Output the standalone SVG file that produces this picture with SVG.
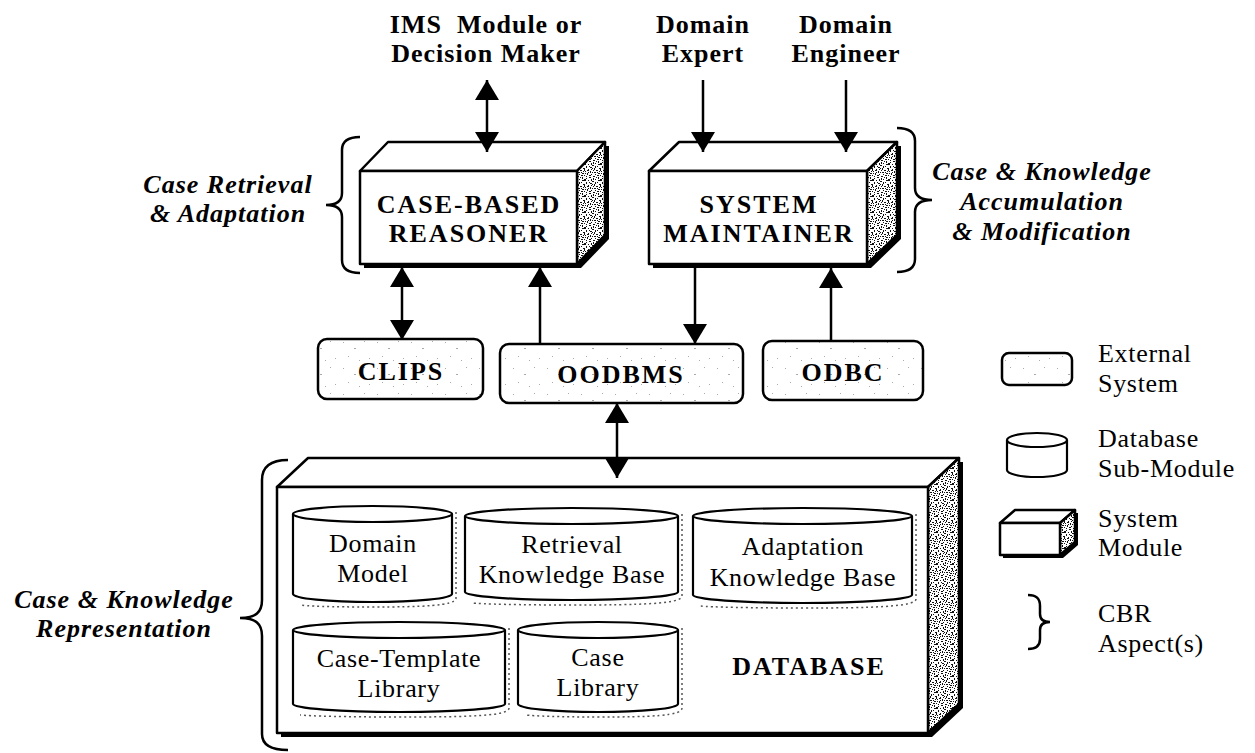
<svg xmlns="http://www.w3.org/2000/svg" width="1255" height="753" viewBox="0 0 1255 753">
  <defs>
    <!-- stippled fill for the shaded side faces of the 3D modules -->
    <pattern id="grain" width="16" height="16" patternUnits="userSpaceOnUse">
      <rect width="16" height="16" fill="#fff"/>
      <path fill="#111" d="M1 0h2v1h-2z M6 1h1v2h-1z M10 0h1v1h-1z M13 1h2v1h-2z M3 3h1v1h-1z M8 3h2v2h-2z M12 4h1v1h-1z M15 3h1v2h-1z M0 5h2v1h-2z M5 6h1v1h-1z M10 6h1v2h-1z M14 7h2v1h-2z M2 8h1v2h-1z M7 8h2v1h-2z M12 9h1v1h-1z M4 10h2v1h-2z M9 11h1v1h-1z M14 11h1v2h-1z M0 12h1v1h-1z M6 13h2v1h-2z M11 13h1v2h-1z M3 14h1v1h-1z M8 15h1v1h-1z M13 15h2v1h-2z M1 10h1v1h-1z M10 2h1v1h-1z M5 12h1v1h-1z M15 14h1v1h-1z M4 1h1v1h-1z M1 2h1v2h-1z M6 4h2v1h-2z M13 6h1v1h-1z M3 6h1v2h-1z M8 9h1v2h-1z M11 10h2v1h-2z M15 9h1v1h-1z M2 12h2v1h-2z M9 13h1v1h-1z M5 15h2v1h-2z M12 12h1v1h-1z M0 8h1v1h-1z M7 11h1v1h-1z"/>
    </pattern>
    <!-- faint speckle for external-system boxes -->
    <pattern id="speck" width="34" height="26" patternUnits="userSpaceOnUse">
      <rect width="34" height="26" fill="#fff"/>
      <path fill="#aaa" d="M3 4h1v1h-1z M14 10h2v1h-2z M24 3h1v1h-1z M8 18h1v1h-1z M29 20h1v1h-1z M19 22h1v1h-1z"/>
    </pattern>
    <marker id="head" viewBox="0 0 20 24" refX="20" refY="12" markerWidth="20" markerHeight="24" markerUnits="userSpaceOnUse" orient="auto-start-reverse">
      <path d="M0,0 L20,12 L0,24 z" fill="#000"/>
    </marker>
  </defs>
  <style>
    text { font-family: "Liberation Serif", "Times New Roman", serif; fill: #000; }
    .lbl { font-weight: bold; font-size: 26px; letter-spacing: 1px; text-anchor: middle; }
    .cap { font-weight: bold; font-size: 26px; letter-spacing: 2px; text-anchor: middle; }
    .asp { font-weight: bold; font-style: italic; font-size: 26px; letter-spacing: 1px; text-anchor: middle; }
    .sub { font-size: 26px; letter-spacing: 0.7px; text-anchor: middle; }
    .key { font-size: 26px; letter-spacing: 0.7px; }
    .face { fill: #fff; stroke: #000; stroke-width: 2.5; stroke-linejoin: round; }
    .side { fill: url(#grain); stroke: #000; stroke-width: 2.5; stroke-linejoin: round; }
    .shadow { fill: #000; }
    .ext { fill: url(#speck); stroke: #000; stroke-width: 2.5; }
    .cyl { fill: #fff; stroke: #000; stroke-width: 2.2; }
    .cylshade { fill: none; stroke: #555; stroke-width: 1.5; stroke-dasharray: 2 3; }
    .brace { fill: none; stroke: #000; stroke-width: 2.5; }
    .conn { fill: none; stroke: #000; stroke-width: 2.5; }
  </style>

  <rect width="1255" height="753" fill="#fff"/>

  <!-- actors -->
  <g id="ims">
    <text class="lbl" x="486" y="33" xml:space="preserve">IMS  Module or</text>
    <text class="lbl" x="486" y="62">Decision Maker</text>
  </g>
  <g id="domain-expert">
    <text class="lbl" x="703" y="33">Domain</text>
    <text class="lbl" x="703" y="62">Expert</text>
  </g>
  <g id="domain-engineer">
    <text class="lbl" x="846" y="33">Domain</text>
    <text class="lbl" x="846" y="62">Engineer</text>
  </g>

  <!-- case-based reasoner -->
  <g id="cbr">
    <polygon class="shadow" points="364,175 392,146 609,146 609,239 581,268 364,268"/>
    <polygon class="face" points="360,171 388,142 605,142 577,171"/>
    <polygon class="side" points="577,171 605,142 605,235 577,264"/>
    <rect class="face" x="360" y="171" width="217" height="93"/>
    <text class="cap" x="469" y="213">CASE-BASED</text>
    <text class="cap" x="469" y="242">REASONER</text>
  </g>

  <!-- system maintainer -->
  <g id="maintainer">
    <polygon class="shadow" points="653,175 683,146 901,146 901,239 871,268 653,268"/>
    <polygon class="face" points="649,171 679,142 897,142 867,171"/>
    <polygon class="side" points="867,171 897,142 897,235 867,264"/>
    <rect class="face" x="649" y="171" width="218" height="93"/>
    <text class="cap" x="759" y="213">SYSTEM</text>
    <text class="cap" x="759" y="242">MAINTAINER</text>
  </g>

  <!-- external systems -->
  <g id="clips">
    <rect class="ext" x="318" y="339" width="165" height="60" rx="9"/>
    <text class="cap" x="401" y="380">CLIPS</text>
  </g>
  <g id="oodbms">
    <rect class="ext" x="500" y="344" width="243" height="59" rx="9"/>
    <text class="cap" x="621" y="383">OODBMS</text>
  </g>
  <g id="odbc">
    <rect class="ext" x="763" y="341" width="160" height="59" rx="9"/>
    <text class="cap" x="843" y="381">ODBC</text>
  </g>

  <!-- database module with its sub-modules -->
  <g id="database">
    <polygon class="shadow" points="281,491 312,462 963,462 963,708 932,737 281,737"/>
    <polygon class="face" points="277,487 308,458 959,458 928,487"/>
    <polygon class="side" points="928,487 959,458 959,704 928,733"/>
    <rect class="face" x="277" y="487" width="651" height="246"/>
    <text class="cap" x="809" y="675">DATABASE</text>
  </g>

  <g id="domain-model">
    <path class="cylshade" d="M456,512 V598 C456,606 420,607 372,607 C330,607 305,606 300,605"/>
    <path class="cyl" d="M293,514 A79.5,8 0 0 1 452,514 V594 A79.5,8 0 0 1 293,594 Z"/>
    <path class="cyl" d="M293,514 A79.5,8 0 0 0 452,514"/>
    <text class="sub" x="373" y="552">Domain</text>
    <text class="sub" x="373" y="582">Model</text>
  </g>
  <g id="retrieval-kb">
    <path class="cylshade" d="M682,514 V596 C682,604 640,605 572,605 C520,605 480,604 472,603"/>
    <path class="cyl" d="M465,516 A106.5,8 0 0 1 678,516 V592 A106.5,8 0 0 1 465,592 Z"/>
    <path class="cyl" d="M465,516 A106.5,8 0 0 0 678,516"/>
    <text class="sub" x="572" y="553">Retrieval</text>
    <text class="sub" x="572" y="583">Knowledge Base</text>
  </g>
  <g id="adaptation-kb">
    <path class="cylshade" d="M916,514 V599 C916,607 870,608 803,608 C750,608 710,607 700,606"/>
    <path class="cyl" d="M693,516 A109.5,8 0 0 1 912,516 V595 A109.5,8 0 0 1 693,595 Z"/>
    <path class="cyl" d="M693,516 A109.5,8 0 0 0 912,516"/>
    <text class="sub" x="803" y="555">Adaptation</text>
    <text class="sub" x="803" y="586">Knowledge Base</text>
  </g>
  <g id="case-template-library">
    <path class="cylshade" d="M509,628 V708 C509,716 470,717 399,717 C345,717 310,716 300,715"/>
    <path class="cyl" d="M293,630 A106,8 0 0 1 505,630 V704 A106,8 0 0 1 293,704 Z"/>
    <path class="cyl" d="M293,630 A106,8 0 0 0 505,630"/>
    <text class="sub" x="399" y="667">Case-Template</text>
    <text class="sub" x="399" y="697">Library</text>
  </g>
  <g id="case-library">
    <path class="cylshade" d="M682,628 V708 C682,716 650,717 598,717 C560,717 535,716 525,715"/>
    <path class="cyl" d="M518,630 A80,8 0 0 1 678,630 V704 A80,8 0 0 1 518,704 Z"/>
    <path class="cyl" d="M518,630 A80,8 0 0 0 678,630"/>
    <text class="sub" x="598" y="666">Case</text>
    <text class="sub" x="598" y="696">Library</text>
  </g>

  <!-- connectors -->
  <g id="connectors">
    <line class="conn" x1="487" y1="80" x2="487" y2="152" marker-start="url(#head)" marker-end="url(#head)"/>
    <line class="conn" x1="703" y1="80" x2="703" y2="152" marker-end="url(#head)"/>
    <line class="conn" x1="846" y1="80" x2="846" y2="152" marker-end="url(#head)"/>
    <line class="conn" x1="402" y1="267" x2="402" y2="340" marker-start="url(#head)" marker-end="url(#head)"/>
    <line class="conn" x1="540" y1="344" x2="540" y2="267" marker-end="url(#head)"/>
    <line class="conn" x1="695" y1="264" x2="695" y2="344" marker-end="url(#head)"/>
    <line class="conn" x1="831" y1="341" x2="831" y2="268" marker-end="url(#head)"/>
    <line class="conn" x1="617" y1="403" x2="617" y2="478" marker-start="url(#head)" marker-end="url(#head)"/>
  </g>

  <!-- CBR aspect braces and captions -->
  <g id="aspect-retrieval">
    <path class="brace" d="M360,137 C349,137 342,141 342,150 L342,193 C342,201 337,205 326,205 C337,205 342,209 342,217 L342,260 C342,269 349,273 360,273"/>
    <text class="asp" x="228" y="193">Case Retrieval</text>
    <text class="asp" x="228" y="222">&amp; Adaptation</text>
  </g>
  <g id="aspect-accumulation">
    <path class="brace" d="M897,128 C908,128 915,132 915,141 L915,188 C915,196 920,200 932,200 C920,200 915,204 915,212 L915,259 C915,268 908,272 897,272"/>
    <text class="asp" x="1042" y="180">Case &amp; Knowledge</text>
    <text class="asp" x="1042" y="210">Accumulation</text>
    <text class="asp" x="1042" y="240">&amp; Modification</text>
  </g>
  <g id="aspect-representation">
    <path class="brace" d="M288,460 C272,460 262,466 262,480 L262,600 C262,612 256,618 240,618 C256,618 262,624 262,636 L262,734 C262,745 272,750 288,750"/>
    <text class="asp" x="124" y="608">Case &amp; Knowledge</text>
    <text class="asp" x="124" y="637">Representation</text>
  </g>

  <!-- legend -->
  <g id="legend">
    <rect class="ext" x="1002" y="353" width="70" height="32" rx="7"/>
    <text class="key" x="1098" y="362">External</text>
    <text class="key" x="1098" y="392">System</text>

    <path class="cyl" d="M1007,440 A30,7 0 0 1 1067,440 V470 A30,7 0 0 1 1007,470 Z"/>
    <path class="cyl" d="M1007,440 A30,7 0 0 0 1067,440"/>
    <text class="key" x="1098" y="447">Database</text>
    <text class="key" x="1098" y="477">Sub-Module</text>

    <polygon class="shadow" points="1003,526 1018,513 1078,513 1078,545 1063,558 1003,558"/>
    <polygon class="face" points="1000,523 1015,510 1075,510 1060,523"/>
    <polygon class="side" points="1060,523 1075,510 1075,542 1060,555"/>
    <rect class="face" x="1000" y="523" width="60" height="32"/>
    <text class="key" x="1098" y="527">System</text>
    <text class="key" x="1098" y="556">Module</text>

    <path class="brace" d="M1028,595 C1036,595 1040,598 1040,606 L1040,614 C1040,619 1043,622 1050,622 C1043,622 1040,625 1040,630 L1040,639 C1040,646 1036,649 1028,649"/>
    <text class="key" x="1098" y="622">CBR</text>
    <text class="key" x="1098" y="652">Aspect(s)</text>
  </g>
</svg>
